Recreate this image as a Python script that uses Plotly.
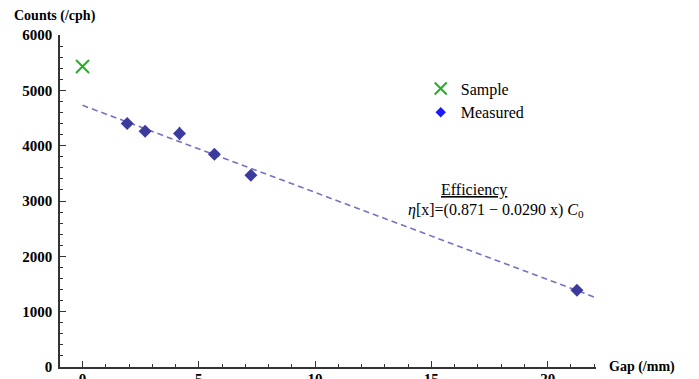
import plotly.graph_objects as go

# Sample reference count at zero gap
sample_gap = [0.0]
sample_counts = [5430]

# Measured count rates versus gap
gap_mm = [1.92, 2.69, 4.17, 5.67, 7.24, 21.26]
counts_cph = [4400, 4262, 4220, 3846, 3467, 1387]
counts_err = [60, 60, 120, 60, 60, 60]

# Linear efficiency model: eta(x) = (a - b x) C0
eff_a = 0.871
eff_b = 0.0290
fit_gap = [0.0, 22.0]
fit_counts = [sample_counts[0] * (eff_a - eff_b * g) for g in fit_gap]

x_ticks = [0, 5, 10, 15, 20]
y_ticks = [0, 1000, 2000, 3000, 4000, 5000, 6000]

SERIF = "Liberation Serif"

fig = go.Figure()

fig.add_trace(go.Scatter(
    x=fit_gap, y=fit_counts, mode="lines",
    line=dict(color="#7373c4", width=1.6, dash="6px,4px"),
    showlegend=False, hoverinfo="skip",
))

fig.add_trace(go.Scatter(
    x=gap_mm, y=counts_cph, mode="markers",
    marker=dict(symbol="diamond", size=10, color="#3b3b9e"),
    error_y=dict(type="data", array=counts_err, color="#3b3b9e", thickness=1.5, width=0),
    showlegend=False,
))

fig.add_trace(go.Scatter(
    x=sample_gap, y=sample_counts, mode="markers",
    marker=dict(symbol="x-thin-open", size=13, color="#22b022",
                line=dict(color="#22b022", width=2)),
    showlegend=False,
))

# legend entries
fig.add_trace(go.Scatter(
    x=[None], y=[None], mode="markers", name="Sample",
    marker=dict(symbol="x-thin-open", size=12, color="#22b022",
                line=dict(color="#22b022", width=2)),
))
fig.add_trace(go.Scatter(
    x=[None], y=[None], mode="markers", name="Measured",
    marker=dict(symbol="diamond", size=8, color="#1a1aff"),
))

axis_common = dict(
    showline=True, linecolor="#333333", linewidth=1.5,
    showgrid=False, zeroline=False, automargin=False,
    ticks="inside", ticklen=6, tickwidth=1.2, tickcolor="#333333",
    tickfont=dict(family=SERIF, size=15, color="black", weight="bold"),
)

fig.update_layout(
    width=699, height=379,
    margin=dict(l=60, r=103, t=35, b=12),
    paper_bgcolor="white", plot_bgcolor="white",
    xaxis=dict(
        range=[-0.97, 22.08], tickvals=x_ticks, ticklabelstandoff=-3,
        minor=dict(dtick=1, ticks="inside", ticklen=3, tickcolor="#333333", showgrid=False),
        **axis_common,
    ),
    yaxis=dict(
        range=[0, 6000], tickvals=y_ticks, ticklabelstandoff=3,
        minor=dict(dtick=200, ticks="inside", ticklen=3, tickcolor="#333333", showgrid=False),
        **axis_common,
    ),
    legend=dict(
        x=0.673, y=0.89, xanchor="left", yanchor="top",
        font=dict(family=SERIF, size=16, color="black"),
        bgcolor="rgba(0,0,0,0)", itemsizing="trace",
    ),
    annotations=[
        dict(text="<b>Counts (/cph)</b>", xref="paper", yref="paper",
             x=-0.09, y=1.058, xanchor="left", yanchor="middle", showarrow=False,
             font=dict(family=SERIF, size=14, color="black")),
        dict(text="<b>Gap (/mm)</b>", xref="paper", yref="paper",
             x=1.02, y=0.0, xanchor="left", yanchor="middle", showarrow=False,
             font=dict(family=SERIF, size=14, color="black")),
        dict(text="<u>Efficiency</u>", xref="x", yref="y",
             x=16.85, y=3200, xanchor="center", yanchor="middle", showarrow=False,
             font=dict(family=SERIF, size=16, color="black")),
        dict(text="<i>η</i>[x]=(0.871 − 0.0290 x) <i>C</i><sub>0</sub>", xref="x", yref="y",
             x=17.8, y=2820, xanchor="center", yanchor="middle", showarrow=False,
             font=dict(family=SERIF, size=16, color="black")),
    ],
)

fig.write_html("out.html")
